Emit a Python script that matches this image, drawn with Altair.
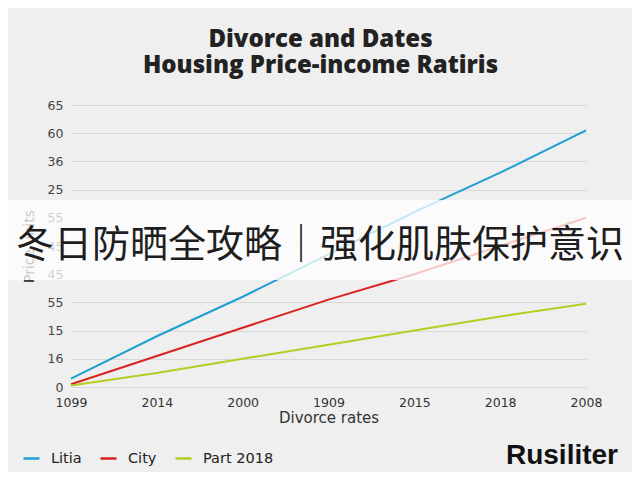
import altair as alt
import pandas as pd

# ---- data ----
x_labels = ["1099", "2014", "2000", "1909", "2015", "2018", "2008"]
y_tick_labels = ["0", "16", "15", "55", "45", "45", "55", "25", "36", "60", "65"]
series_names = ["Litia", "City", "Part 2018"]
litia = [3, 18, 32, 47, 62, 76, 91]
city = [1, 11, 21, 31, 40, 50, 60]
part_2018 = [0.5, 5, 10, 15, 20, 25, 29.5]
colors = ["#1f9fd0", "#d8231f", "#b8cc22"]
title_lines = ["Divorce and Dates", "Housing Price-income Ratiris"]
banner_text = ["冬日防晒全攻略｜强化肌肤保护意识"]
brand_text = ["Rusiliter"]

rows = []
for name, vals in zip(series_names, [litia, city, part_2018]):
    for xl, v in zip(x_labels, vals):
        rows.append({"year": xl, "value": v, "series": name})
df = pd.DataFrame(rows)

tick_vals = list(range(0, 101, 10))
label_expr = "[" + ",".join("'" + s + "'" for s in y_tick_labels) + "][round(datum.value/10)]"

FONT = "DejaVu Sans"

lines = alt.Chart(df).mark_line(strokeWidth=2).encode(
    x=alt.X("year:N", sort=x_labels,
            scale=alt.Scale(domain=x_labels, padding=0),
            axis=alt.Axis(title="Divorce rates", labelAngle=0, grid=False, ticks=False,
                          domain=False, labelPadding=9, titlePadding=2,
                          labelFontSize=12.5, titleFontSize=15, labelColor="#333",
                          titleColor="#333", titleFontWeight="normal",
                          labelFont=FONT, titleFont=FONT, zindex=0)),
    y=alt.Y("value:Q", scale=alt.Scale(domain=[0, 100], nice=False),
            axis=alt.Axis(values=tick_vals, labelExpr=label_expr, title="Price units",
                          grid=True, gridColor="#d9d9d9", ticks=False, domain=False,
                          labelPadding=8, titlePadding=11, labelFontSize=12.5,
                          titleFontSize=14, labelColor="#444", titleColor="#222",
                          titleFontWeight="normal", labelFont=FONT,
                          titleFont=FONT, zindex=0)),
    color=alt.Color("series:N", scale=alt.Scale(domain=series_names, range=colors),
                    legend=alt.Legend(title=None, orient="none", direction="horizontal",
                                      legendX=-49, legendY=344, symbolType="stroke",
                                      symbolSize=256, symbolStrokeWidth=2.5,
                                      labelFontSize=14.5, labelFont=FONT,
                                      labelColor="#222", columnPadding=13,
                                      labelOffset=10, padding=0))
)

banner_df = pd.DataFrame({"t": banner_text})
banner_rect = alt.Chart(banner_df).mark_rect(color="white", opacity=0.75).encode(
    x=alt.value(-71), x2=alt.value(569), y=alt.value(95), y2=alt.value(175)
)
banner_txt = alt.Chart(banner_df).mark_text(
    font="Noto Sans CJK SC", fontSize=38, color="#1e1e1e", align="center", baseline="middle"
).encode(text="t:N", x=alt.value(249), y=alt.value(141))

brand = alt.Chart(pd.DataFrame({"t": brand_text})).mark_text(
    font="Liberation Sans", fontWeight="bold", fontSize=28, color="#111",
    align="right", baseline="middle"
).encode(text="t:N", x=alt.value(547), y=alt.value(351))

chart = alt.layer(lines, banner_rect, banner_txt, brand).properties(
    width=515, height=282,
    background="#efefef",
    padding={"left": 63, "top": 97, "right": 46, "bottom": 85},
    autosize=alt.AutoSizeParams(type="none"),
    title=alt.Title(title_lines, font="Open Sans", fontSize=24, fontWeight=800,
                    color="#222", anchor="middle", frame="group", dx=-8, offset=21,
                    lineHeight=26)
).configure_view(stroke=None)

chart.save("out.html", embed_options={"renderer": "svg", "actions": False})
